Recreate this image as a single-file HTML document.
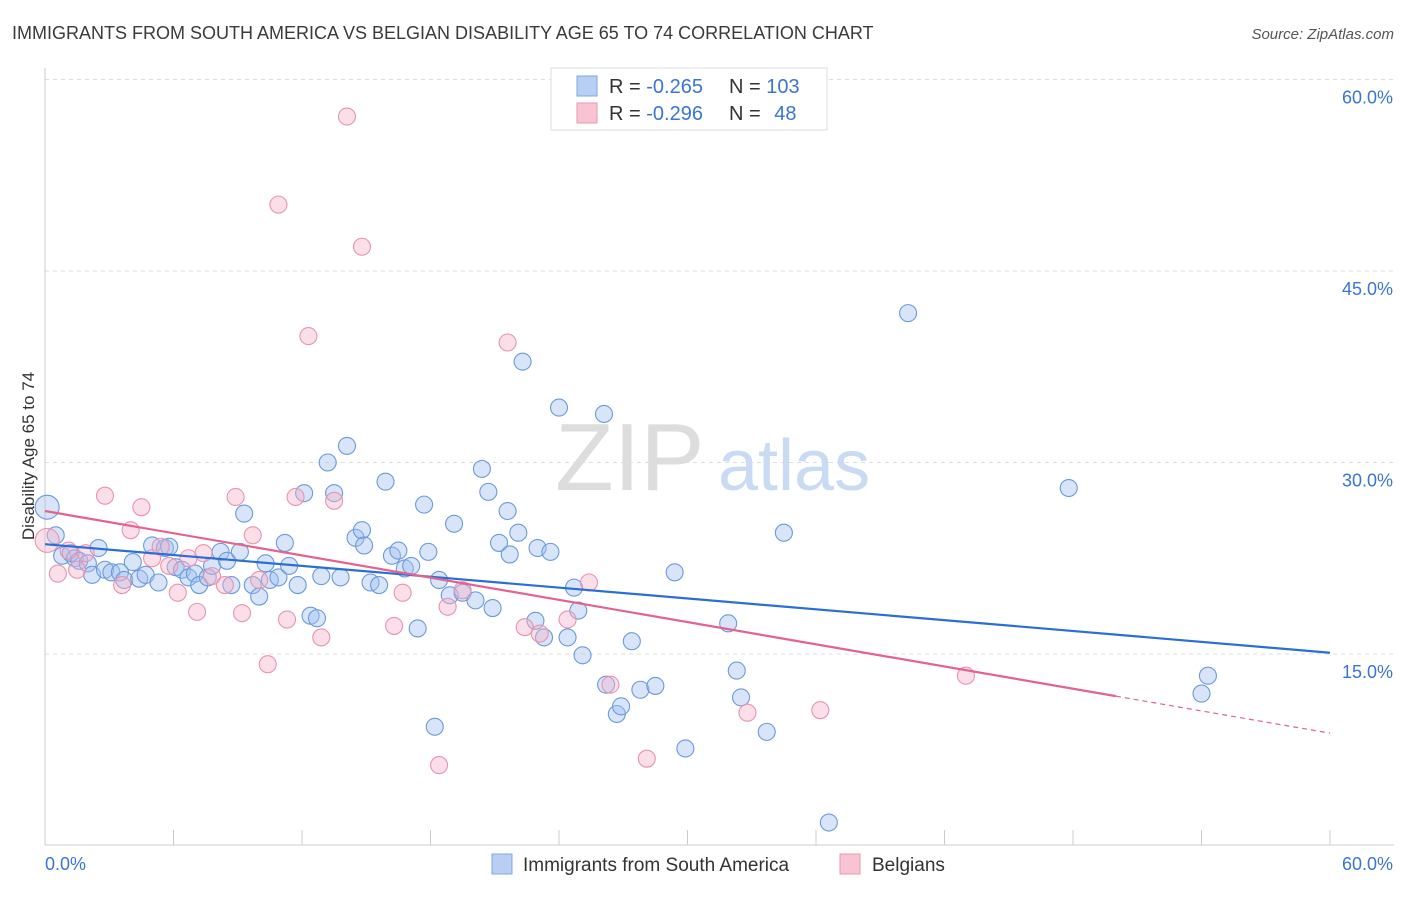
<!DOCTYPE html>
<html><head><meta charset="utf-8"><style>
body{margin:0;background:#fff;font-family:"Liberation Sans",sans-serif;}
svg text{font-family:"Liberation Sans",sans-serif;}
</style></head><body>
<svg id="chart" width="1406" height="892">
<text x="12" y="39" font-size="18" fill="#3a3a3a">IMMIGRANTS FROM SOUTH AMERICA VS BELGIAN DISABILITY AGE 65 TO 74 CORRELATION CHART</text>
<text x="1394" y="39" font-size="15" fill="#555" font-style="italic" text-anchor="end">Source: ZipAtlas.com</text>
<text x="34" y="456" font-size="17" fill="#333" text-anchor="middle" transform="rotate(-90 34 456)">Disability Age 65 to 74</text>
<g id="grid"></g>
<g id="axes"></g>
<text x="555" y="490" font-size="96" fill="#ddd" font-family="Liberation Serif">ZIP</text>
<text x="718" y="490" font-size="72" fill="#c9dbf3">atlas</text>
<g id="points"></g>
<g id="trends"></g>
<g>
<rect x="551" y="68" width="276" height="62" fill="#fff" stroke="#ddd"/>
<rect x="577" y="76" width="20" height="20" fill="#b8cff3" stroke="#7ea6e4"/>
<rect x="577" y="103" width="20" height="20" fill="#f8c3d3" stroke="#ec97b2"/>
<text x="609" y="93" font-size="20" fill="#333">R = <tspan fill="#3a74d6">-0.265</tspan></text>
<text x="729" y="93" font-size="20" fill="#333">N = <tspan fill="#3a74d6">103</tspan></text>
<text x="609" y="120" font-size="20" fill="#333">R = <tspan fill="#3a74d6">-0.296</tspan></text>
<text x="729" y="120" font-size="20" fill="#333">N = <tspan fill="#3a74d6" dx="8">48</tspan></text>
</g>
<g>
<rect x="492" y="854" width="20" height="20" fill="#b8cff3" stroke="#7ea6e4"/>
<text x="523" y="871" font-size="19" fill="#333">Immigrants from South America</text>
<rect x="840" y="854" width="20" height="20" fill="#f8c3d3" stroke="#ec97b2"/>
<text x="872" y="871" font-size="19" fill="#333">Belgians</text>
</g>
</svg>
<script>
const yTicks=[15,30,45,60];
const yTickLabels=["15.0%","30.0%","45.0%","60.0%"];
const xTickLabels=["0.0%","60.0%"];
const blueX=[0.1,0.5,0.8,1.2,1.4,1.6,2.0,2.2,2.5,2.8,3.1,3.5,3.7,4.1,4.4,4.7,5.0,5.3,5.6,5.8,6.1,6.4,6.7,7.0,7.2,7.6,7.8,8.2,8.5,8.7,9.1,9.3,9.7,10.0,10.3,10.5,10.9,11.2,11.4,11.8,12.1,12.4,12.7,12.9,13.2,13.5,13.8,14.1,14.5,14.8,14.9,15.2,15.6,15.9,16.2,16.5,16.8,17.1,17.4,17.7,17.9,18.2,18.4,18.9,19.1,19.5,20.1,20.4,20.7,20.9,21.2,21.6,21.7,22.1,22.3,22.9,23.0,23.3,23.6,24.0,24.4,24.7,24.9,25.1,26.1,26.2,26.7,26.9,27.4,27.8,28.5,29.4,29.9,31.9,32.3,32.5,33.7,34.5,36.6,40.3,47.8,54.0,54.3];
const blueY=[26.5,24.3,22.7,22.9,22.5,22.3,22.1,21.2,23.3,21.6,21.4,21.4,20.8,22.2,20.9,21.2,23.5,20.6,23.3,23.4,21.8,21.6,21.0,21.3,20.4,21.0,21.9,23.0,22.3,20.4,23.0,26.0,20.4,19.5,22.1,20.8,21.0,23.7,21.9,20.4,27.6,18.0,17.8,21.1,30.0,27.6,21.0,31.3,24.1,24.7,23.5,20.6,20.4,28.5,22.7,23.1,21.7,21.9,17.0,26.7,23.0,9.3,20.8,19.6,25.2,19.8,19.2,29.5,27.7,18.6,23.7,26.2,22.8,24.5,37.9,17.6,23.3,16.3,23.0,34.3,16.3,20.2,18.4,14.9,33.8,12.6,10.3,10.9,16.0,12.2,12.5,21.4,7.6,17.4,13.7,11.6,8.9,24.5,1.8,41.7,28.0,11.9,13.3];
const pinkX=[0.1,0.6,1.1,1.5,1.9,2.8,3.6,4.0,4.5,5.0,5.4,5.8,6.2,6.7,7.1,7.4,7.8,8.4,8.9,9.2,9.7,10.0,10.4,10.9,11.3,11.7,12.3,12.9,13.5,14.1,14.8,16.3,16.7,18.4,18.8,19.5,21.6,22.4,23.1,24.4,25.4,26.4,28.1,32.8,36.2,43.0];
const pinkY=[23.9,21.3,23.1,21.6,22.9,27.4,20.4,24.7,26.5,22.5,23.4,21.9,19.8,22.5,18.3,22.9,21.1,20.4,27.3,18.2,24.3,20.8,14.2,50.2,17.7,27.3,39.9,16.3,27.0,57.1,46.9,17.2,19.8,6.3,18.7,20.0,39.4,17.1,16.6,17.7,20.6,12.6,6.8,10.4,10.6,13.3];
const blueTrend=[23.6,15.1];
const pinkTrend=[26.2,8.8];
const pinkSolidEnd=50.0;
const NS="http://www.w3.org/2000/svg";
const sx=v=>45+v/60*1285, sy=v=>845.5-v/15*191.5;
function mk(t,a,p){const e=document.createElementNS(NS,t);for(const k in a)e.setAttribute(k,a[k]);p.appendChild(e);return e;}
const grid=document.getElementById('grid'),axes=document.getElementById('axes');
yTicks.forEach((t,i)=>{
 const l=mk('line',{x1:45,x2:1394,y1:sy(t),y2:sy(t),stroke:'#ddd','stroke-dasharray':'4,4'},grid);
 
 
 const tx=mk('text',{x:1393,y:sy(t)+24,'font-size':18,fill:'#3a74d6','text-anchor':'end'},axes);
 tx.textContent=yTickLabels[i];
 
 
});
const ya=mk('line',{x1:45,x2:45,y1:68,y2:845,stroke:'#ccc'},axes);


const xa=mk('line',{x1:45,x2:1394,y1:845,y2:845,stroke:'#ccc'},axes);


for(let i=0;i<=10;i++){const t=mk('line',{x1:sx(i*6),x2:sx(i*6),y1:830,y2:845,stroke:'#ccc'},axes);
 
 }
[[0,'start',45],[60,'end',1393]].forEach((d,i)=>{const t=mk('text',{x:d[2],y:870,'font-size':18,fill:'#3a74d6','text-anchor':d[1]},axes);t.textContent=xTickLabels[i];
 
 });
const pts=document.getElementById('points');
function dots(X,Y,fill,stroke,name){X.forEach((x,i)=>{const c=mk('circle',{cx:sx(x),cy:sy(Y[i]),r:i==0?12:8.5,fill:fill,'fill-opacity':0.42,stroke:stroke,'stroke-width':1.1},pts);
 
 });}
dots(blueX,blueY,'#a3c0ee','#6a99de','point-immigrants');
dots(pinkX,pinkY,'#f5b3c8','#e993ae','point-belgians');
const tr=document.getElementById('trends');
const bl=mk('line',{x1:sx(0),y1:sy(blueTrend[0]),x2:sx(60),y2:sy(blueTrend[1]),stroke:'#2a6fd6','stroke-width':2.2},tr);


const pe=pinkTrend[0]+(pinkTrend[1]-pinkTrend[0])*pinkSolidEnd/60;
const pl=mk('line',{x1:sx(0),y1:sy(pinkTrend[0]),x2:sx(pinkSolidEnd),y2:sy(pe),stroke:'#e5618f','stroke-width':2.2},tr);


const pd=mk('line',{x1:sx(pinkSolidEnd),y1:sy(pe),x2:sx(60),y2:sy(pinkTrend[1]),stroke:'#e5618f','stroke-width':1.2,'stroke-dasharray':'5,4'},tr);


</script>
</body></html>
